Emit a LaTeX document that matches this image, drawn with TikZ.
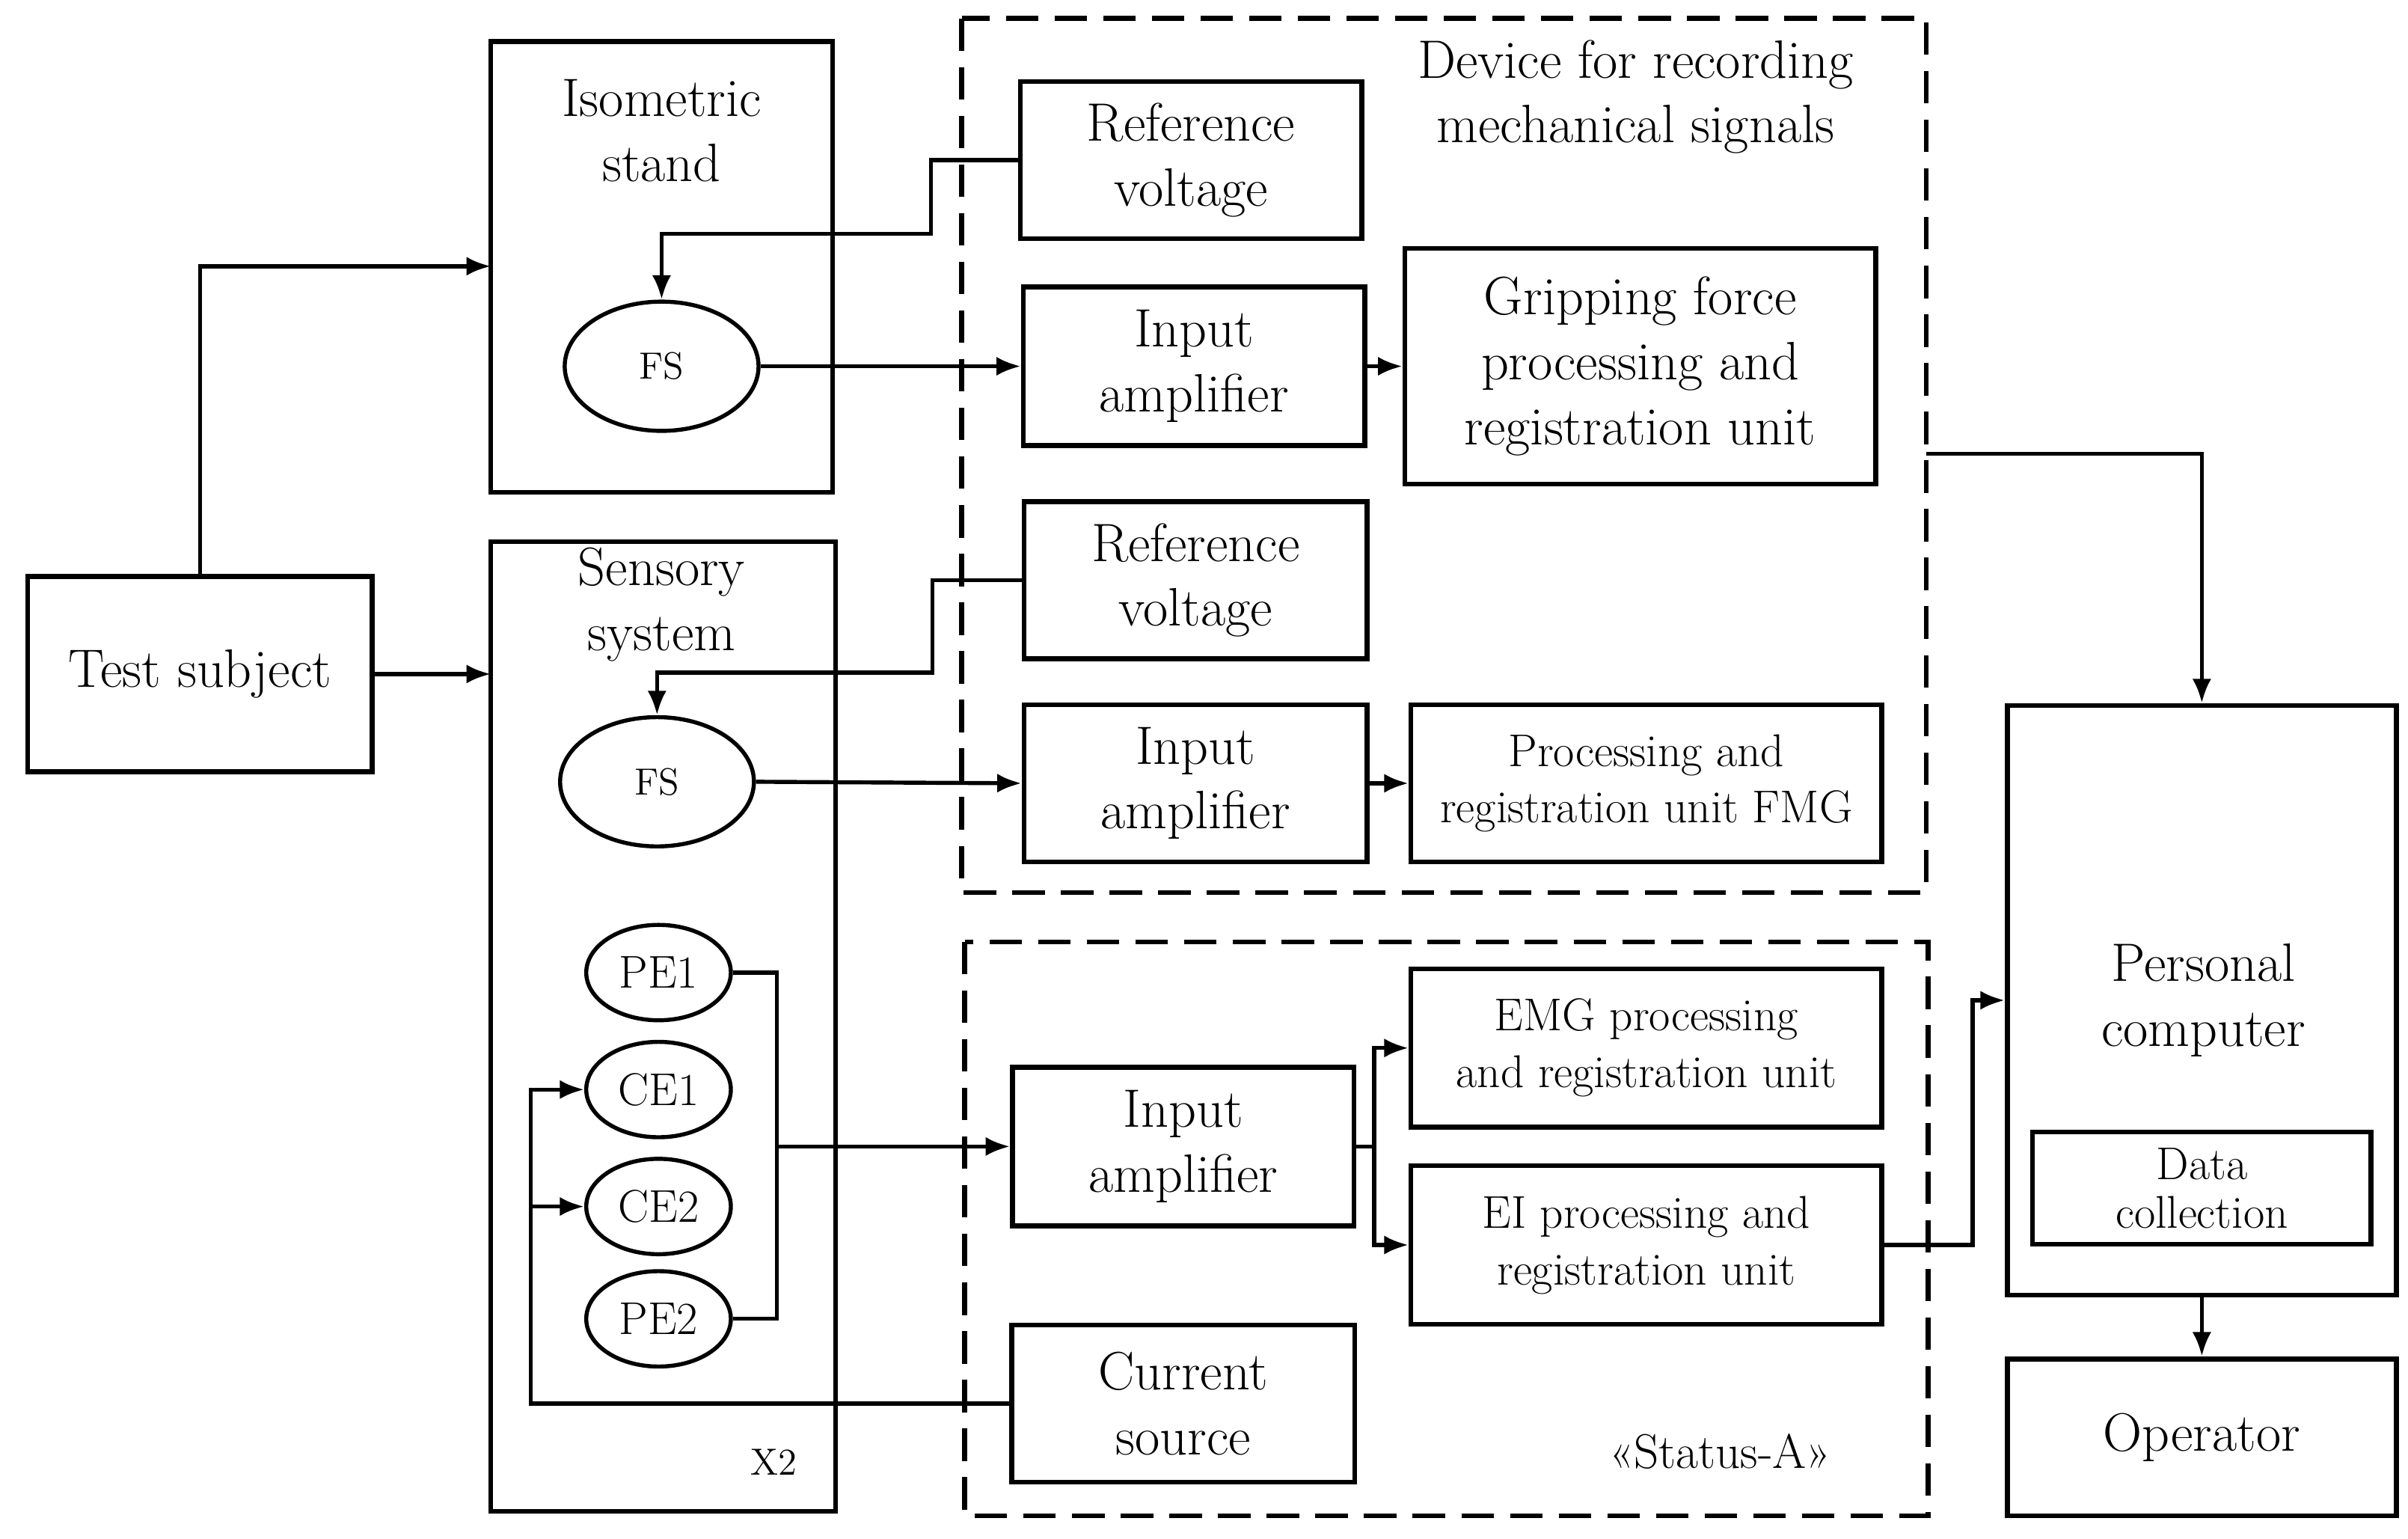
\documentclass[tikz,border=0pt]{standalone}
\usepackage{tikz}
\usetikzlibrary{arrows.meta, shapes.geometric}

\begin{document}
\begin{tikzpicture}[x=0.02cm,y=-0.02cm,>={Latex[length=9pt,width=7pt]},line width=1.5pt]
                \tikzset{blk/.style={draw, line width=1.8pt, align=center, font=\fontsize{20}{24}\selectfont, inner sep=0pt},
                         sens/.style={draw, ellipse, line width=1.5pt, font=\fontsize{17}{20}\selectfont, inner sep=0pt},
                         grp/.style={draw, dashed, line width=1.8pt, dash pattern=on 12pt off 6pt},
                         small/.style={font=\fontsize{17}{21}\selectfont}}
                \useasboundingbox (0,0) rectangle (1565,1000);

                \draw[grp] (625,12) rectangle (1252,580);
                \draw[grp] (627,612) rectangle (1253,985);
                \node[align=center, font=\fontsize{20}{24}\selectfont] at (1063,63) {Device for recording\\mechanical signals};
                \node[font=\fontsize{18}{22}\selectfont] at (1118,943) {«Status-A»};

                \node[blk, minimum width=4.48cm, minimum height=2.54cm] (TS) at (130,438) {Test subject};
                \draw[line width=1.8pt] (319,27) rectangle (541,320);
                \node[align=center, font=\fontsize{20}{24}\selectfont] at (430,85) {Isometric\\stand};
                \draw[line width=1.8pt] (319,352) rectangle (543,982);
                \node[align=center, font=\fontsize{20}{24}\selectfont] at (430,393) {Sensory\\system};
                \node[font=\fontsize{14}{16}\selectfont] at (503,950) {X2};

                \node[sens, minimum width=2.52cm, minimum height=1.68cm, font=\fontsize{14}{16}\selectfont] (FSa) at (430,238) {FS};
                \node[sens, minimum width=2.52cm, minimum height=1.68cm, font=\fontsize{14}{16}\selectfont] (FSb) at (427,508) {FS};
                \node[sens, minimum width=1.88cm, minimum height=1.24cm] (PEa) at (428,632) {PE1};
                \node[sens, minimum width=1.88cm, minimum height=1.24cm] (CEa) at (428,708) {CE1};
                \node[sens, minimum width=1.88cm, minimum height=1.24cm] (CEb) at (428,784) {CE2};
                \node[sens, minimum width=1.88cm, minimum height=1.24cm] (PEb) at (428,857) {PE2};

                \node[blk, minimum width=4.44cm, minimum height=2.04cm] (RVa) at (774,104) {Reference\\voltage};
                \node[blk, minimum width=4.44cm, minimum height=2.06cm] (IAa) at (776,238) {Input\\amplifier};
                \node[blk, minimum width=6.12cm, minimum height=3.06cm] (GF) at (1066,238) {Gripping force\\processing and\\registration unit};
                \node[blk, minimum width=4.46cm, minimum height=2.04cm] (RVb) at (777,377) {Reference\\voltage};
                \node[blk, minimum width=4.46cm, minimum height=2.04cm] (IAb) at (777,509) {Input\\amplifier};
                \node[blk, small, minimum width=6.12cm, minimum height=2.04cm] (FMG) at (1070,509) {Processing and\\registration unit FMG};
                \node[blk, minimum width=4.44cm, minimum height=2.06cm] (IAc) at (769,745) {Input\\amplifier};
                \node[blk, small, minimum width=6.12cm, minimum height=2.06cm] (EMG) at (1070,681) {EMG processing\\and registration unit};
                \node[blk, small, minimum width=6.12cm, minimum height=2.06cm] (EI) at (1070,809) {EI processing and\\registration unit};
                \node[blk, minimum width=4.46cm, minimum height=2.04cm] (CS) at (769,912) {Current\\source};
                \node[blk, minimum width=5.06cm, minimum height=7.66cm] (PC) at (1431,650) {};
                \node[align=center, font=\fontsize{20}{24}\selectfont] at (1432,650) {Personal\\computer};
                \node[blk, font=\fontsize{17}{18}\selectfont, minimum width=4.4cm, minimum height=1.46cm] (DC) at (1431,772) {Data\\collection};
                \node[blk, minimum width=5.06cm, minimum height=2.04cm] (OP) at (1431,934) {Operator};

                \coordinate (J) at (505,745);
                \coordinate (K) at (893,745);

                \draw[->] (TS.north) |- (319,173);
                \draw[->] (TS.east) -- (319,438);
                \draw[->] (RVa.west) -| (605,152) -| (FSa.north);
                \draw[->] (FSa.east) -- (IAa.west);
                \draw[->] (IAa.east) -- (GF.west);
                \draw[->] (1252,295) -| (PC.north);
                \draw[->] (RVb.west) -| (606,437) -| (FSb.north);
                \draw[->] (FSb.east) -- (IAb.west);
                \draw[->] (IAb.east) -- (FMG.west);
                \draw (PEa.east) -| (505,857) -- (PEb.east);
                \draw[->] (J) -- (IAc.west);
                \draw (IAc.east) -- (K);
                \draw[->] (K) |- (EMG.west);
                \draw[->] (K) |- (EI.west);
                \draw[->] (EI.east) -| (1282,650) -- (PC.west);
                \draw[->] (CS.west) -| (345,708) -- (CEa.west);
                \draw[->] (345,784) -- (CEb.west);
                \draw[->] (PC.south) -- (OP.north);
            \end{tikzpicture}
\end{document}
